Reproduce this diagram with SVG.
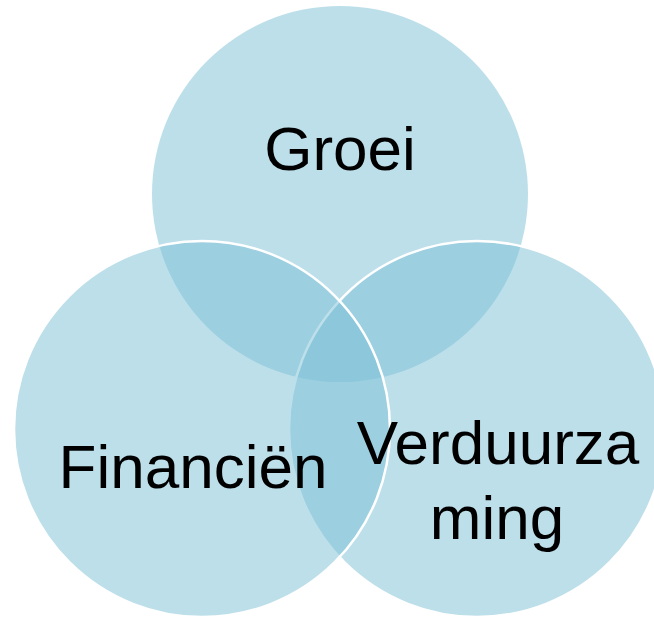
<svg xmlns="http://www.w3.org/2000/svg" width="654" height="617" viewBox="0 0 654 617">
<style>
.c{fill:#7BBFD5;fill-opacity:0.5}
.s{stroke:#FFFFFF;stroke-width:2.5}
.t{font-family:"Liberation Sans",Arial,sans-serif;font-size:62px;fill:#000000;text-anchor:middle}
</style>
<rect width="654" height="617" fill="#FFFFFF"/>
<g id="groei">
<circle class="c" cx="340" cy="194" r="188"/>
</g>
<g id="verduurzaming">
<circle class="c s" cx="477" cy="429" r="188"/>
</g>
<g id="financien">
<circle class="c s" cx="202" cy="429" r="188"/>
</g>
<g id="labels">
<text class="t" x="340" y="170">Groei</text>
<text class="t" x="193" y="488">Financiën</text>
<text class="t" x="498" y="464">Verduurza</text>
<text class="t" x="497" y="539">ming</text>
</g>
<g id="connectors"/>
</svg>
